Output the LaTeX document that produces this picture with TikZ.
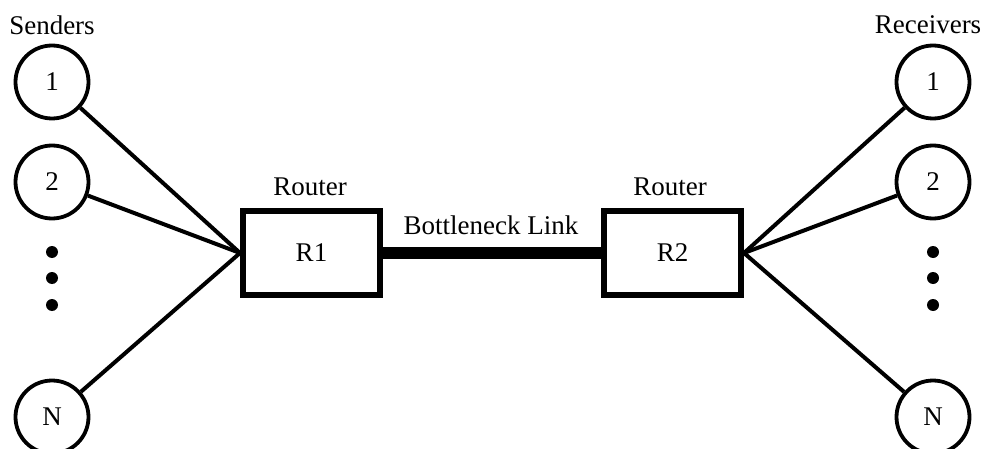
\documentclass[tikz,border=0pt]{standalone}
\usepackage{fontspec}
\setmainfont{Liberation Serif}
\begin{document}
\begin{tikzpicture}[x=1pt,y=-1pt,
  host/.style={draw,circle,line width=3.8pt,minimum size=73pt,inner sep=0pt,font=\fontsize{27}{27}\selectfont},
  router/.style={draw,rectangle,line width=6pt,minimum width=137pt,minimum height=84pt,inner sep=0pt,font=\fontsize{27}{27}\selectfont},
  lbl/.style={inner sep=0pt,font=\fontsize{27}{27}\selectfont},
  wire/.style={line width=4pt},
  dotm/.style={fill,circle,minimum size=12pt,inner sep=0pt}]
\useasboundingbox (0,0) rectangle (985,449);
\node[lbl] (snd) at (52,25) {Senders};
\node[lbl] (rcv) at (928,25) {Receivers};
\node[host] (s1) at (52,82) {1};
\node[host] (s2) at (52,182) {2};
\node[host] (sn) at (52,417) {N};
\node[dotm] (sd1) at (52,252) {};
\node[dotm] (sd2) at (52,278) {};
\node[dotm] (sd3) at (52,305) {};
\node[host] (d1) at (933,82) {1};
\node[host] (d2) at (933,182) {2};
\node[host] (dn) at (933,417) {N};
\node[dotm] (dd1) at (933,252) {};
\node[dotm] (dd2) at (933,278) {};
\node[dotm] (dd3) at (933,305) {};
\node[router] (r1) at (311.5,253) {R1};
\node[router] (r2) at (672.5,253) {R2};
\node[lbl] (rl1) at (310,187) {Router};
\node[lbl] (rl2) at (670,187) {Router};
\node[lbl] (bl) at (491,225) {Bottleneck Link};
\draw[line width=12pt] (r1.east) -- (r2.west);
\draw[wire] (s1) -- (r1.west);
\draw[wire] (s2) -- (r1.west);
\draw[wire] (sn) -- (r1.west);
\draw[wire] (d1) -- (r2.east);
\draw[wire] (d2) -- (r2.east);
\draw[wire] (dn) -- (r2.east);
\end{tikzpicture}
\end{document}
